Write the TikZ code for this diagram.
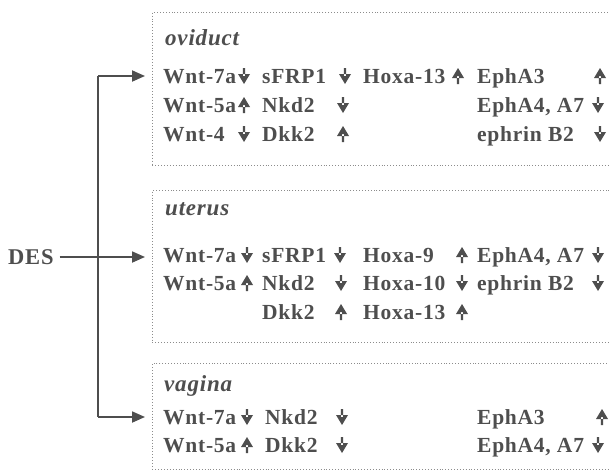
\documentclass[tikz,border=0pt]{standalone}
\usepackage{fontspec}
\setmainfont{Liberation Serif}
\newfontfamily\gfont[LetterSpace=3.5]{Liberation Serif}
\usetikzlibrary{arrows.meta}
\definecolor{ink}{HTML}{4E4E4E}
\definecolor{boxc}{HTML}{8C8C8C}
\tikzset{
  gene/.style={anchor=base west, inner sep=0pt, font=\gfont\fontsize{21.5}{21.5}\selectfont\bfseries, text=ink},
  organ/.style={anchor=base west, inner sep=0pt, font=\gfont\fontsize{23}{23}\selectfont\bfseries\itshape, text=ink},
  panel/.style={draw=boxc, dotted, line width=0.9pt, anchor=north west, inner sep=0pt, minimum width=470pt},
  link/.style={draw=ink, line width=1.8pt},
  conn/.style={link, -{Triangle[length=13pt,width=11pt]}},
  uparr/.pic={\fill[ink] (-1.2,8) rectangle (1.2,0) (-6,2) -- (6,2) -- (0,-8) -- cycle;},
  dnarr/.pic={\fill[ink] (-1.2,-8) rectangle (1.2,0) (-6,-2) -- (6,-2) -- (0,8) -- cycle;},
}
\begin{document}
\begin{tikzpicture}[x=1pt,y=-1pt]
\useasboundingbox (0,0) rectangle (609,471);
\fill[white] (0,0) rectangle (609,471);
% panels
\node[panel, minimum height=153pt] (ovi) at (152,12) {};
\node[panel, minimum height=152pt] (ute) at (152,190) {};
\node[panel, minimum height=106pt] (vag) at (152,363) {};
% DES and connectors
\node[anchor=west, inner sep=0pt, font=\gfont\fontsize{22.5}{22.5}\selectfont\bfseries, text=ink] (des) at (8,257) {DES};
\coordinate (jT) at (98,76);
\coordinate (jB) at (98,417);
\draw[link] (jT) -- (jB);
\draw[conn] ([xshift=6pt]des.east) -- ([xshift=-7pt]ute.west |- des.east);
\draw[conn] (jT) -- ([xshift=-7pt]ovi.west |- jT);
\draw[conn] (jB) -- ([xshift=-7pt]vag.west |- jB);
% oviduct
\node[organ] (oT) at (165,45) {oviduct};
\node[gene] (o11) at (163,83) {Wnt-7a}; \pic at (244,76) {dnarr};
\node[gene] (o12) at (262,83) {sFRP1};  \pic at (345,76) {dnarr};
\node[gene] (o13) at (363,83) {Hoxa-13}; \pic at (458,76) {uparr};
\node[gene] (o14) at (477,83) {EphA3};  \pic at (600,76) {uparr};
\node[gene] (o21) at (163,112) {Wnt-5a}; \pic at (244,105) {uparr};
\node[gene] (o22) at (262,112) {Nkd2};  \pic at (343,105) {dnarr};
\node[gene] (o24) at (477,112) {EphA4, A7}; \pic at (598,105) {dnarr};
\node[gene] (o31) at (163,141) {Wnt-4};  \pic at (244,134) {dnarr};
\node[gene] (o32) at (262,141) {Dkk2};  \pic at (343,134) {uparr};
\node[gene] (o34) at (477,141) {ephrin B2}; \pic at (600,134) {dnarr};
% uterus
\node[organ] (uT) at (165,215) {uterus};
\node[gene] (u11) at (163,262) {Wnt-7a}; \pic at (247,255) {dnarr};
\node[gene] (u12) at (262,262) {sFRP1};  \pic at (340,255) {dnarr};
\node[gene] (u13) at (363,262) {Hoxa-9}; \pic at (462,255) {uparr};
\node[gene] (u14) at (477,262) {EphA4, A7}; \pic at (598,255) {dnarr};
\node[gene] (u21) at (163,290) {Wnt-5a}; \pic at (247,283) {uparr};
\node[gene] (u22) at (262,290) {Nkd2};  \pic at (341,283) {dnarr};
\node[gene] (u23) at (363,290) {Hoxa-10}; \pic at (462,283) {dnarr};
\node[gene] (u24) at (477,290) {ephrin B2}; \pic at (598,283) {dnarr};
\node[gene] (u32) at (262,319) {Dkk2};  \pic at (341,312) {uparr};
\node[gene] (u33) at (363,319) {Hoxa-13}; \pic at (462,312) {uparr};
% vagina
\node[organ] (vT) at (164,391) {vagina};
\node[gene] (v11) at (163,424) {Wnt-7a}; \pic at (247,417) {dnarr};
\node[gene] (v12) at (265,424) {Nkd2};  \pic at (342,417) {dnarr};
\node[gene] (v14) at (477,424) {EphA3};  \pic at (602,417) {uparr};
\node[gene] (v21) at (163,452) {Wnt-5a}; \pic at (247,445) {uparr};
\node[gene] (v22) at (265,452) {Dkk2};  \pic at (342,445) {dnarr};
\node[gene] (v24) at (477,452) {EphA4, A7}; \pic at (598,445) {dnarr};
\end{tikzpicture}
\end{document}
